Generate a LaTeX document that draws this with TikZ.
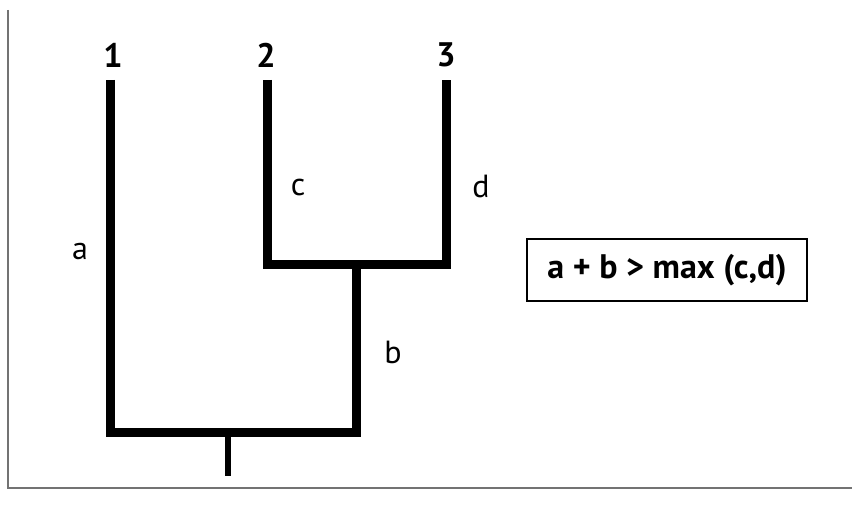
\documentclass[tikz,border=0pt]{standalone}
\usepackage{fontspec}
\setmainfont{PT Sans}
\tikzset{
  branch/.style={line width=9pt, line join=miter, line cap=butt},
  stem/.style={line width=6.5pt},
  leaflabel/.style={font=\fontsize{34}{38}\selectfont\bfseries},
  edgelabel/.style={font=\fontsize{32}{36}\selectfont},
  frame/.style={draw=black!55, line width=1.4pt}
}
\begin{document}
\begin{tikzpicture}[x=1pt, y=-1pt]
    \useasboundingbox (0,0) rectangle (852,518);
    % Page frame
    \coordinate (ftop) at (8,10);
    \coordinate (fcorner) at (8,488);
    \coordinate (fright) at (852,488);
    \draw[frame] (ftop) -- (fcorner) -- (fright);

    % Tree points
    \coordinate (tip1) at (110,80);
    \coordinate (tip2) at (267,80);
    \coordinate (tip3) at (446,80);
    \coordinate (inner) at (356,265);
    \coordinate (root) at (228,433);
    \coordinate (base) at (228,476);

    % Branches
    \draw[branch] (tip1) |- (inner |- root) -- (inner);
    \draw[branch] (tip2) |- (inner) -| (tip3);
    \draw[stem] (root) -- (base);

    % Taxa
    \node[leaflabel] (lab1) at (113,55) {1};
    \node[leaflabel] (lab2) at (266,55) {2};
    \node[leaflabel] (lab3) at (446,55) {3};

    % Branch lengths
    \node[edgelabel] (la) at (80,252) {a};
    \node[edgelabel] (lb) at (393,352) {b};
    \node[edgelabel] (lc) at (298,188) {c};
    \node[edgelabel] (ld) at (481,186) {d};

    % Inequality
    \node[draw, line width=1.2pt, minimum width=280pt, minimum height=62pt,
          font=\fontsize{34}{38}\selectfont\bfseries] (rule) at (667,270)
          {a + b > max (c,d)};
\end{tikzpicture}
\end{document}
